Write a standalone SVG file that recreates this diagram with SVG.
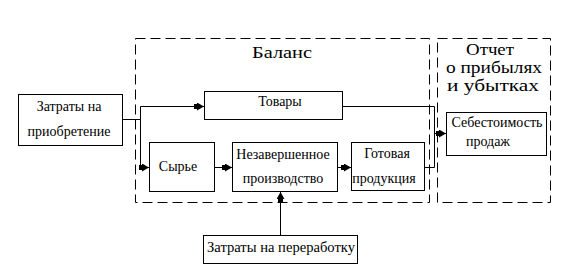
<svg xmlns="http://www.w3.org/2000/svg" width="568" height="276" viewBox="0 0 568 276">
<defs>
<style>
.box{fill:#fff;stroke:#000;stroke-width:1}
.dash{fill:none;stroke:#000;stroke-width:1;stroke-dasharray:10,5}
text{font-family:'Liberation Serif','DejaVu Serif',serif;fill:#000;text-anchor:middle}
.t{font-size:14px}
.h{font-size:17px}
.c{fill:none;stroke:#000;stroke-width:1}
</style>
<marker id="ar" viewBox="0 0 10 8" refX="10" refY="4" markerWidth="10" markerHeight="8" markerUnits="userSpaceOnUse" orient="auto">
<path d="M0,1.5 L3,1.5 L3,0 L10,4 L3,8 L3,6.5 L0,6.5 z" fill="#000"/>
</marker>
</defs>
<g id="balance">
<rect class="dash" x="135.5" y="38.5" width="294" height="164"/>
<text class="h" x="282" y="57.5" textLength="60" lengthAdjust="spacingAndGlyphs">Баланс</text>
</g>
<g id="report">
<rect class="dash" x="437.5" y="38.5" width="113" height="164"/>
<text class="h" x="490" y="55" textLength="48" lengthAdjust="spacingAndGlyphs">Отчет</text>
<text class="h" x="494" y="73" textLength="96" lengthAdjust="spacingAndGlyphs">о прибылях</text>
<text class="h" x="493" y="91" textLength="92" lengthAdjust="spacingAndGlyphs">и убытках</text>
</g>
<g id="purchase">
<rect class="box" x="18.5" y="94.5" width="104" height="51"/>
<text class="t" x="69" y="111">Затраты на</text>
<text class="t" x="69" y="136">приобретение</text>
</g>
<g id="goods">
<rect class="box" x="204.5" y="91.5" width="138" height="28"/>
<text class="t" x="280" y="106">Товары</text>
</g>
<g id="raw">
<rect class="box" x="149.5" y="142.5" width="65" height="49"/>
<text class="t" x="178" y="171">Сырье</text>
</g>
<g id="wip">
<rect class="box" x="232.5" y="142.5" width="105" height="49"/>
<text class="t" x="283" y="159">Незавершенное</text>
<text class="t" x="283" y="183">производство</text>
</g>
<g id="finished">
<rect class="box" x="351.5" y="142.5" width="73" height="48"/>
<text class="t" x="387" y="158">Готовая</text>
<text class="t" x="384" y="183">продукция</text>
</g>
<g id="cogs">
<rect class="box" x="446.5" y="112.5" width="100" height="43"/>
<text class="t" x="497" y="126.5">Себестоимость</text>
<text class="t" x="488" y="145.5">продаж</text>
</g>
<g id="processing">
<rect class="box" x="203.5" y="235.5" width="154" height="28"/>
<text class="t" x="281" y="252" textLength="148" lengthAdjust="spacingAndGlyphs">Затраты на переработку</text>
</g>
<g id="connectors">
<path class="c" d="M122.5,119.5 H140.5"/>
<path class="c" d="M140.5,167.5 V106.5 H204" marker-end="url(#ar)"/>
<path class="c" d="M140.5,167.5 H149" marker-end="url(#ar)"/>
<path class="c" d="M214.5,167.5 H232" marker-end="url(#ar)"/>
<path class="c" d="M337.5,167.5 H351" marker-end="url(#ar)"/>
<path class="c" d="M342.5,106.5 H434.5 V167.5 H424.5"/>
<path class="c" d="M434.5,133.5 H446" marker-end="url(#ar)"/>
<path class="c" d="M280.5,235.5 V192" marker-end="url(#ar)"/>
</g>
</svg>
